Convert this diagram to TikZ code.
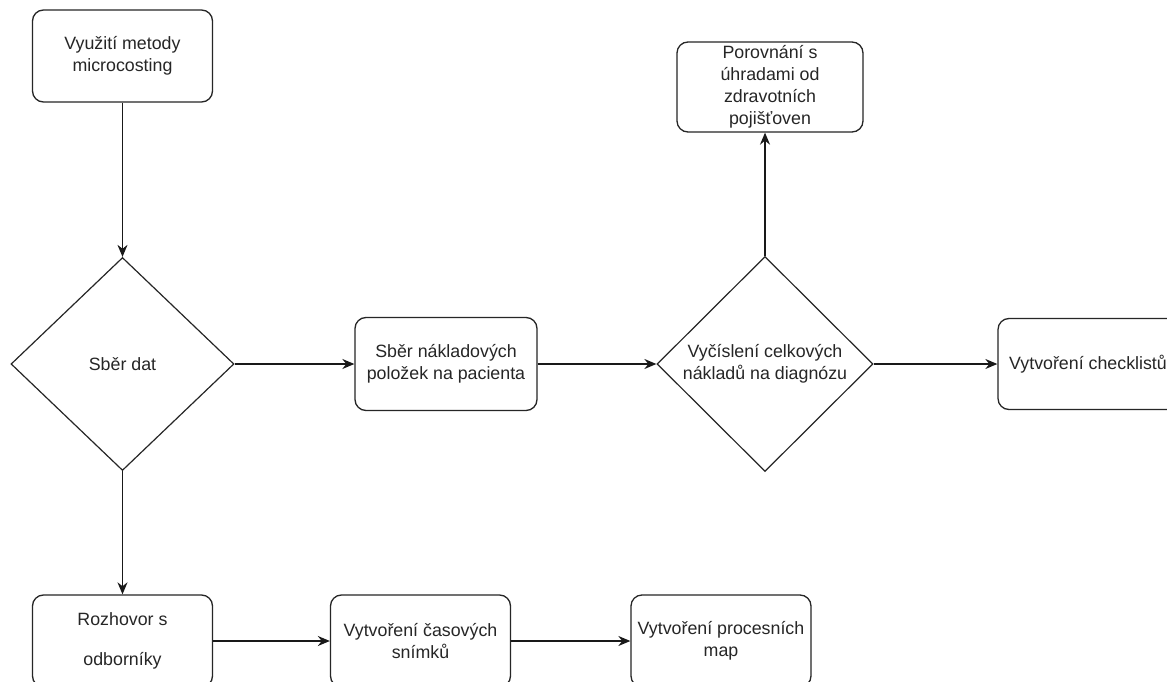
\documentclass[tikz,border=0pt]{standalone}
\usepackage{fontspec}
\setmainfont{Liberation Sans}
\usetikzlibrary{shapes.geometric,arrows.meta}
\begin{document}
\begin{tikzpicture}[x=1pt,y=-1pt,
  txt/.style={font=\fontsize{17.8}{22}\selectfont, text=black!85},
  box/.style={txt, draw=black!85, rounded corners=11pt, line width=1.3pt, minimum width=180pt, minimum height=92pt, align=center, inner sep=2pt},
  dia/.style={txt, draw=black!85, diamond, line width=1.2pt, align=center, inner sep=0pt},
  arr/.style={draw=black!90, -{Stealth[length=12pt,width=10pt]}, line width=1.4pt}]
\fill[white] (0,0) rectangle (1167,682);
\clip (0,0) rectangle (1167,682);
\node[box] (a) at (122.5,56) {Využití metody\\microcosting};
\node[dia, minimum width=223pt, minimum height=213pt] (b) at (122.5,364) {Sběr dat};
\node[box, minimum width=182pt, minimum height=93pt] (c) at (446,364) {Sběr nákladových\\položek na pacienta};
\node[dia, minimum width=216pt, minimum height=215pt] (d) at (765,364) {Vyčíslení celkových\\nákladů na diagnózu};
\node[box, minimum width=186pt, minimum height=90pt] (e) at (770,87) {Porovnání s\\úhradami od\\zdravotních\\pojišťoven};
\node[box, minimum height=91pt] (f) at (1088,364) {Vytvoření checklistů};
\node[box] (g) at (122.5,641) {Rozhovor s\\[18pt]odborníky};
\node[box] (h) at (420.5,641) {Vytvoření časových\\snímků};
\node[box] (i) at (721,641) {Vytvoření procesních\\map};
\draw[arr] (a) -- (b);
\draw[arr] (b) -- (c);
\draw[arr] (c) -- (d);
\draw[arr] (d.north) -- (d.north |- e.south);
\draw[arr] (d) -- (f);
\draw[arr] (b) -- (g);
\draw[arr] (g) -- (h);
\draw[arr] (h) -- (i);
\end{tikzpicture}
\end{document}
